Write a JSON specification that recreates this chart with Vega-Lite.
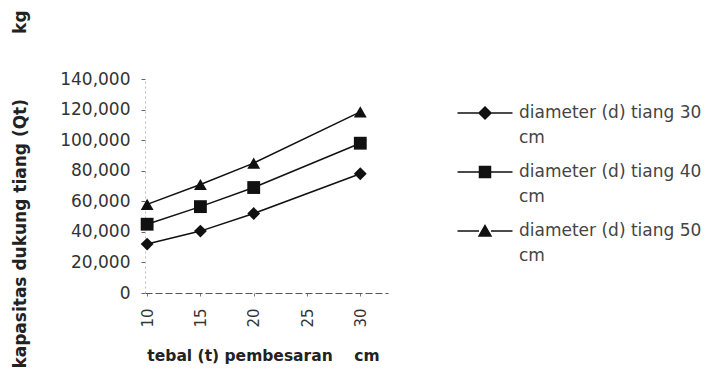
{
  "$schema": "https://vega.github.io/schema/vega-lite/v6.json",
  "autosize": "none",
  "width": 243,
  "height": 214,
  "padding": {"left": 145, "top": 79, "right": 325, "bottom": 77},
  "background": "white",
  "config": {
    "view": {"stroke": null},
    "axis": {
      "labelFont": "DejaVu Sans",
      "labelColor": "#333",
      "titleFont": "DejaVu Sans",
      "titleColor": "#222",
      "grid": false
    },
    "legend": {"labelFont": "DejaVu Sans"}
  },
  "data": {
    "values": [
      {"t": 10, "d": "diameter (d) tiang 30 cm", "Qt": 32000},
      {"t": 15, "d": "diameter (d) tiang 30 cm", "Qt": 40500},
      {"t": 20, "d": "diameter (d) tiang 30 cm", "Qt": 52000},
      {"t": 30, "d": "diameter (d) tiang 30 cm", "Qt": 78000},
      {"t": 10, "d": "diameter (d) tiang 40 cm", "Qt": 45000},
      {"t": 15, "d": "diameter (d) tiang 40 cm", "Qt": 56500},
      {"t": 20, "d": "diameter (d) tiang 40 cm", "Qt": 69000},
      {"t": 30, "d": "diameter (d) tiang 40 cm", "Qt": 98000},
      {"t": 10, "d": "diameter (d) tiang 50 cm", "Qt": 58000},
      {"t": 15, "d": "diameter (d) tiang 50 cm", "Qt": 71000},
      {"t": 20, "d": "diameter (d) tiang 50 cm", "Qt": 85000},
      {"t": 30, "d": "diameter (d) tiang 50 cm", "Qt": 118500}
    ]
  },
  "encoding": {
    "x": {
      "field": "t",
      "type": "quantitative",
      "scale": {"domain": [9.8, 32.6], "nice": false, "zero": false},
      "axis": {
        "values": [10, 15, 20, 25, 30],
        "labelAngle": 270,
        "labelFontSize": 15,
        "labelPadding": 12,
        "tickSize": 3,
        "tickColor": "#777",
        "domainColor": "#555",
        "domainDash": [7, 3],
        "title": "tebal (t) pembesaran\u00a0\u00a0\u00a0\u00a0cm",
        "titleFontSize": 15.5,
        "titleFontWeight": "bold",
        "titleX": 118,
        "titleY": 62,
        "titleBaseline": "middle",
        "titleAlign": "center"
      }
    },
    "y": {
      "field": "Qt",
      "type": "quantitative",
      "scale": {"domain": [0, 140000], "nice": false},
      "axis": {
        "values": [0, 20000, 40000, 60000, 80000, 100000, 120000, 140000],
        "format": ",d",
        "labelFontSize": 17,
        "labelPadding": 11,
        "tickSize": 4,
        "tickColor": "#666",
        "domainColor": "#bbb",
        "domainDash": [2, 3],
        "title": "kapasitas dukung tiang (Qt)\u00a0\u00a0\u00a0\u00a0\u00a0\u00a0\u00a0\u00a0\u00a0\u00a0\u00a0kg",
        "titleFontSize": 17,
        "titleFontWeight": "bold",
        "titleAngle": 270,
        "titleX": -125,
        "titleY": 110,
        "titleBaseline": "middle",
        "titleAlign": "center"
      }
    }
  },
  "layer": [
    {
      "mark": {"type": "line", "strokeWidth": 1.5},
      "encoding": {
        "color": {
          "field": "d",
          "type": "nominal",
          "scale": {"range": ["#111", "#111", "#111"]},
          "legend": {
            "title": null,
            "orient": "none",
            "legendX": 314,
            "legendY": 8,
            "padding": 0,
            "symbolSize": 2500,
            "labelOffset": 8,
            "labelFontSize": 17,
            "labelColor": "#444",
            "labelLimit": 300,
            "rowPadding": 0,
            "labelExpr": "[replace(datum.label, ' cm', ''), 'cm']",
            "encode": {
              "symbols": {
                "update": {
                  "shape": {"signal": "indexof(datum.value, '30') >= 0 ? 'M-1.1,0H-0.24M0.24,0H1.1M0,-0.24L0.24,0L0,0.24L-0.24,0Z' : indexof(datum.value, '40') >= 0 ? 'M-1.1,0H-0.22M0.22,0H1.1M-0.22,-0.22H0.22V0.22H-0.22Z' : 'M-1.1,0H-0.24M0.24,0H1.1M0,-0.22L0.24,0.2H-0.24Z'"},
                  "fill": {"value": "#111"},
                  "stroke": {"value": "#111"},
                  "strokeWidth": {"value": 1.5}
                }
              },
              "labels": {
                "update": {
                  "lineHeight": {"value": 25}
                }
              }
            }
          }
        }
      }
    },
    {
      "mark": {"type": "point", "filled": true, "opacity": 1, "color": "#111", "size": 165},
      "encoding": {
        "shape": {
          "field": "d",
          "type": "nominal",
          "scale": {"range": ["diamond", "square", "triangle-up"]},
          "legend": null
        }
      }
    }
  ]
}
